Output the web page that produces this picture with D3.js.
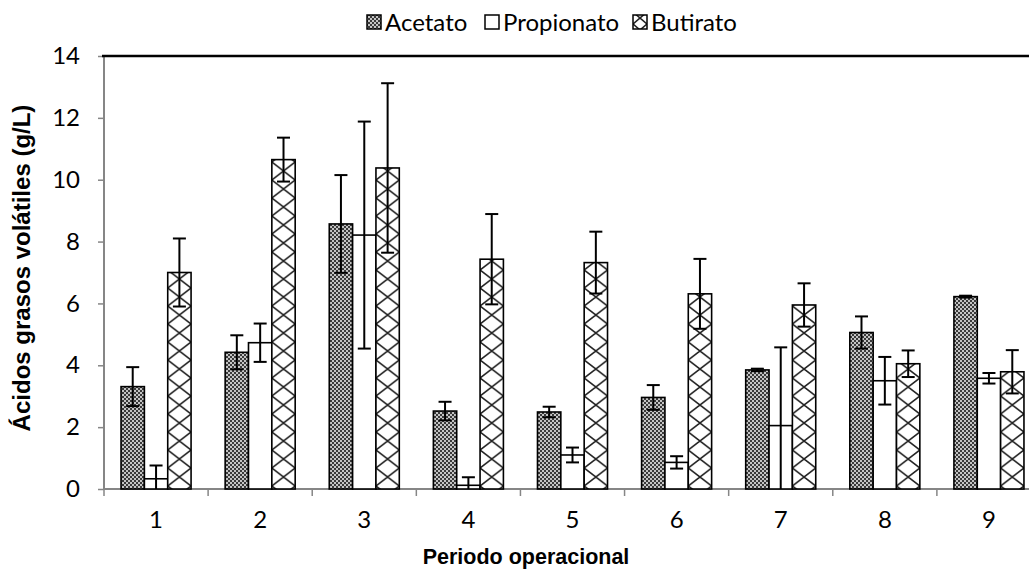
<!DOCTYPE html>
<html>
<head>
<meta charset="utf-8">
<script src="https://cdn.jsdelivr.net/npm/d3@7"></script>
<style>
  html, body { margin: 0; padding: 0; background: #fff; }
  svg { display: block; }
</style>
</head>
<body>
<svg id="chart" width="1029" height="571"></svg>
<script>
const categories = ["1", "2", "3", "4", "5", "6", "7", "8", "9"];
const seriesNames = ["Acetato", "Propionato", "Butirato"];
const acetato    = [3.31, 4.42, 8.57, 2.52, 2.49, 2.96, 3.85, 5.06, 6.22];
const acetatoErr = [0.63, 0.55, 1.58, 0.30, 0.17, 0.40, 0.04, 0.52, 0.03];
const propionato    = [0.33, 4.73, 8.21, 0.12, 1.10, 0.86, 2.05, 3.50, 3.58];
const propionatoErr = [0.43, 0.62, 3.67, 0.26, 0.24, 0.20, 2.53, 0.77, 0.17];
const butirato    = [7.00, 10.65, 10.38, 7.43, 7.32, 6.31, 5.95, 4.05, 3.79];
const butiratoErr = [1.10, 0.71, 2.74, 1.46, 1.00, 1.13, 0.70, 0.43, 0.70];
const yTicks = [0, 2, 4, 6, 8, 10, 12, 14];

const values = [acetato, propionato, butirato];
const errors = [acetatoErr, propionatoErr, butiratoErr];

const svg = d3.select("#chart");
const pLeft = 104, pTop = 56, pBottom = 489, pRight = 1041;
const labelFont = "Lato, 'Open Sans', sans-serif";
const titleFont = "'Liberation Sans', Arial, sans-serif";

const x0 = d3.scaleBand().domain(categories).range([pLeft, pRight]).padding(0);
const x1 = d3.scaleBand().domain(seriesNames).range([0, x0.bandwidth()])
  .paddingInner(0).paddingOuter(0.73);
const y = d3.scaleLinear().domain([0, 14]).range([pBottom, pTop]);

const defs = svg.append("defs");
const pa = defs.append("pattern").attr("id", "pat-acetato")
  .attr("patternUnits", "userSpaceOnUse").attr("width", 4).attr("height", 4);
pa.append("rect").attr("width", 4).attr("height", 4).attr("fill", "#3a3a3a");
pa.append("rect").attr("x", 0).attr("y", 0).attr("width", 2).attr("height", 2).attr("fill", "#c4c4c4");
pa.append("rect").attr("x", 2).attr("y", 2).attr("width", 2).attr("height", 2).attr("fill", "#c4c4c4");

const hatchH = 18;
function makeHatch(id, px, w, h) {
  const p = defs.append("pattern").attr("id", id)
    .attr("patternUnits", "userSpaceOnUse")
    .attr("x", px).attr("y", 0).attr("width", w).attr("height", h);
  p.append("rect").attr("width", w).attr("height", h).attr("fill", "#fff");
  p.append("path").attr("d", `M0,0L${w},${h}M${w},0L0,${h}`)
    .attr("stroke", "#222").attr("stroke-width", 1.6).attr("fill", "none");
}

const bw = x1.bandwidth();

// Axes
const gy = svg.append("g").attr("transform", `translate(${pLeft},0)`)
  .call(d3.axisLeft(y).tickValues(yTicks).tickSize(6).tickPadding(18).tickFormat(d3.format("d")));
gy.select(".domain").attr("stroke", "#868686").attr("stroke-width", 2).attr("d", `M0,${pTop}V${pBottom}`);
gy.selectAll(".tick line").attr("stroke", "#868686").attr("stroke-width", 1.5);
gy.selectAll(".tick text").attr("font-family", labelFont)
  .attr("font-size", 24).attr("fill", "#000");

const gx = svg.append("g").attr("transform", `translate(0,${pBottom})`)
  .call(d3.axisBottom(x0).tickSize(0).tickPadding(22));
gx.select(".domain").attr("stroke", "#868686").attr("stroke-width", 2).attr("d", `M${pLeft},0H${pRight}`);
gx.selectAll(".tick text").attr("font-family", labelFont)
  .attr("font-size", 24).attr("fill", "#000");
svg.append("g").selectAll("line").data(categories).join("line")
  .attr("x1", d => x0(d)).attr("x2", d => x0(d))
  .attr("y1", pBottom).attr("y2", pBottom + 7)
  .attr("stroke", "#868686").attr("stroke-width", 1.5);

svg.append("line").attr("x1", pLeft - 2).attr("x2", pRight).attr("y1", pTop).attr("y2", pTop)
  .attr("stroke", "#000").attr("stroke-width", 2.5);

// Bars
const barsG = svg.append("g");
seriesNames.forEach((s, si) => {
  const data = categories.map((c, i) => ({ c, i, v: values[si][i], e: errors[si][i] }));
  data.forEach(d => {
    const bx = x0(d.c) + x1(s);
    if (si === 0) d.fill = "url(#pat-acetato)";
    else if (si === 1) d.fill = "#fff";
    else {
      const id = "hatch-" + d.i;
      makeHatch(id, bx, bw, hatchH);
      d.fill = `url(#${id})`;
    }
  });
  barsG.append("g").selectAll("rect").data(data).join("rect")
    .attr("x", d => x0(d.c) + x1(s))
    .attr("y", d => y(d.v))
    .attr("width", bw)
    .attr("height", d => y(0) - y(d.v))
    .attr("fill", d => d.fill)
    .attr("stroke", "#000").attr("stroke-width", 1.6);
});

// Error bars
const capW = 13;
seriesNames.forEach((s, si) => {
  const data = categories.map((c, i) => ({ c, v: values[si][i], e: errors[si][i] }));
  const g = svg.append("g").attr("stroke", "#000").attr("stroke-width", 2);
  const cx = d => x0(d.c) + x1(s) + bw / 2;
  g.selectAll(".stem").data(data).join("line").attr("class", "stem")
    .attr("x1", cx).attr("x2", cx)
    .attr("y1", d => y(d.v + d.e)).attr("y2", d => y(Math.max(0, d.v - d.e)));
  g.selectAll(".capT").data(data).join("line").attr("class", "capT")
    .attr("x1", d => cx(d) - capW / 2).attr("x2", d => cx(d) + capW / 2)
    .attr("y1", d => y(d.v + d.e)).attr("y2", d => y(d.v + d.e));
  g.selectAll(".capB").data(data.filter(d => d.v - d.e > 0)).join("line").attr("class", "capB")
    .attr("x1", d => cx(d) - capW / 2).attr("x2", d => cx(d) + capW / 2)
    .attr("y1", d => y(d.v - d.e)).attr("y2", d => y(d.v - d.e));
});

// Axis titles
svg.append("text").attr("x", 526).attr("y", 564).attr("text-anchor", "middle")
  .attr("font-family", titleFont).attr("font-weight", "bold")
  .attr("font-size", 21.5).text("Periodo operacional");
svg.append("text").attr("transform", `translate(30,268) rotate(-90)`).attr("text-anchor", "middle")
  .attr("font-family", titleFont).attr("font-weight", "bold")
  .attr("font-size", 24).text("Ácidos grasos volátiles (g/L)");

// Legend
const legendX = [367, 485, 633];
makeHatch("hatch-legend", legendX[2], 14, 12);
const legendFill = ["url(#pat-acetato)", "#fff", "url(#hatch-legend)"];
const lg = svg.append("g");
seriesNames.forEach((s, i) => {
  lg.append("rect").attr("x", legendX[i]).attr("y", 15).attr("width", 14).attr("height", 14)
    .attr("fill", legendFill[i]).attr("stroke", "#000").attr("stroke-width", 1.5);
  lg.append("text").attr("x", legendX[i] + 18).attr("y", 31)
    .attr("font-family", labelFont).attr("font-size", 24).text(s);
});
</script>
</body>
</html>
